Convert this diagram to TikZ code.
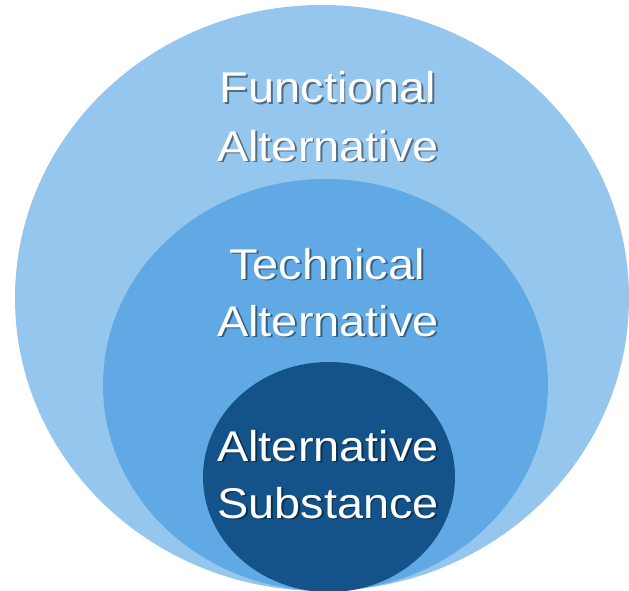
\documentclass[tikz,border=0pt]{standalone}
\usepackage{fontspec}
\newfontfamily\lblfont[FakeStretch=1.09]{Liberation Sans}
\definecolor{ringOuter}{RGB}{149,198,238}
\definecolor{ringMiddle}{RGB}{96,169,228}
\definecolor{ringInner}{RGB}{20,83,138}
% white text with a soft dark copy behind it
\newcommand\shadowtext[2]{\rlap{\kern1.8pt\raisebox{-1.8pt}{\color{#1}#2}}#2}
\begin{document}
\begin{tikzpicture}[x=1pt,y=-1pt]
        \tikzset{
          lbl/.style={text=white,inner sep=0pt,anchor=base,
            font=\lblfont\fontsize{43}{50}\selectfont},
        }
        \useasboundingbox (0,0) rectangle (629,591);
        %OUTER RING
        \fill[ringOuter] (322,298) ellipse [x radius=307,y radius=293];
        %MIDDLE RING
        \fill[ringMiddle] (325.5,385) ellipse [x radius=222.5,y radius=206];
        %INNER DISC
        \fill[ringInner] (329,477) ellipse [x radius=126,y radius=115];

        \foreach \nm/\x/\y/\sh/\txt in {func1/328/103/ringOuter!55!black/Functional,
            func2/328/161/ringOuter!55!black/Alternative,
            tech1/327/279/ringMiddle!55!black/Technical,
            tech2/328/336/ringMiddle!55!black/Alternative,
            subst1/328/461/ringInner!55!black/Alternative,
            subst2/328/518/ringInner!55!black/Substance}{
            \node[lbl] (\nm) at (\x,\y) {\shadowtext{\sh}{\txt}};
        }
    \end{tikzpicture}
\end{document}
